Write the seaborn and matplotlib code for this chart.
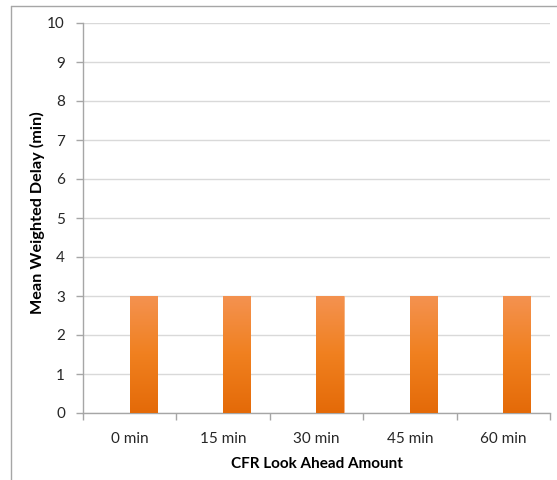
import numpy as np
import pandas as pd
import matplotlib
matplotlib.use("Agg")
import matplotlib.pyplot as plt
from matplotlib.lines import Line2D
from matplotlib.colors import LinearSegmentedColormap
import seaborn as sns

categories = ["0 min", "15 min", "30 min", "45 min", "60 min"]
delays = [3, 3, 3, 3, 3]
y_ticks = list(range(0, 11))
# the chart reserves a slot for an empty series to the left of each bar
series_order = ["(empty)", "Mean weighted delay"]

df = pd.DataFrame({"lookahead": categories, "delay": delays,
                   "series": series_order[1]})

sns.set_style("white")
plt.rcParams["font.family"] = ["Lato", "DejaVu Sans"]

fig = plt.figure(figsize=(5.57, 4.80), dpi=100)
ax = fig.add_axes([83 / 557, 1 - 413 / 480, (550 - 83) / 557, (413 - 23) / 480])

sns.barplot(data=df, x="lookahead", y="delay", hue="series",
            hue_order=series_order, order=categories, ax=ax, width=0.58,
            dodge=True, palette=["#ec7c2c", "#ec7c2c"], edgecolor="#f7b07c",
            linewidth=0.6, saturation=1, legend=False, zorder=3)

# vertical orange gradient inside each bar
grad = LinearSegmentedColormap.from_list("bar_grad", ["#e46a08", "#f0801f", "#f49250"])
gradient = np.linspace(0, 1, 256).reshape(-1, 1)
for patch in ax.patches:
    if patch.get_height() == 0 or np.isnan(patch.get_height()):
        continue
    x0, y0 = patch.get_x(), patch.get_y()
    w, h = patch.get_width(), patch.get_height()
    im = ax.imshow(gradient, cmap=grad, aspect="auto", origin="lower",
                   extent=[x0, x0 + w, y0, y0 + h], zorder=3.5)
    im.set_clip_path(patch)

ax.set_xlim(-0.5, len(categories) - 0.5)
ax.set_ylim(0, 10)
ax.set_yticks(y_ticks)
ax.yaxis.grid(True, color="#d9d9d9", linewidth=1)
ax.set_axisbelow(True)

for side in ("top", "right"):
    ax.spines[side].set_visible(False)
for side in ("left", "bottom"):
    ax.spines[side].set_color("#a6a6a6")
    ax.spines[side].set_linewidth(1)

ax.tick_params(axis="y", which="major", left=True, length=5, width=1,
               color="#a6a6a6", labelsize=11, labelcolor="#262626", pad=8)
ax.set_xticks(np.arange(-0.5, len(categories)), minor=True)
ax.tick_params(axis="x", which="minor", bottom=True, length=5, width=1,
               color="#a6a6a6")
ax.tick_params(axis="x", which="major", bottom=False, labelsize=11,
               labelcolor="#262626", pad=10)

ax.set_xlabel("CFR Look Ahead Amount", fontsize=11, fontweight="bold",
              color="#000000", labelpad=8)
ax.set_ylabel("Mean Weighted Delay (min)", fontsize=11.7, fontweight="bold",
              color="#000000")
ax.yaxis.set_label_coords(-0.0814, 0.515)

# chart area frame along the top and left edges
fig.add_artist(Line2D([11 / 557, 1], [1 - 6 / 480, 1 - 6 / 480],
                      transform=fig.transFigure, color="#a6a6a6", linewidth=1))
fig.add_artist(Line2D([11 / 557, 11 / 557], [0, 1 - 6 / 480],
                      transform=fig.transFigure, color="#a6a6a6", linewidth=1))

fig.savefig("out.png", dpi=100)
